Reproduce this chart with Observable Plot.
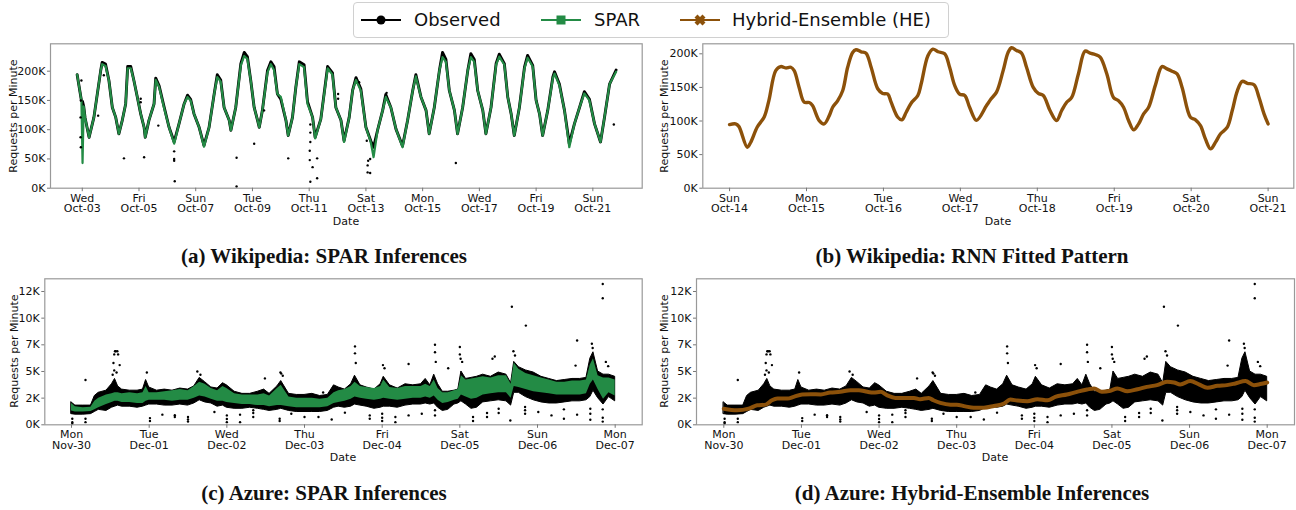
<!DOCTYPE html>
<html><head><meta charset="utf-8">
<script src="https://cdn.jsdelivr.net/npm/d3@7"></script>
<script src="https://cdn.jsdelivr.net/npm/@observablehq/plot@0.6"></script>
<style>
body{margin:0;background:#fff;width:1296px;height:510px;position:relative;overflow:hidden;font-family:"DejaVu Sans",sans-serif;}
.panel{position:absolute;}
.panel svg{overflow:visible;}
.cap{position:absolute;font-family:"Liberation Serif",serif;font-weight:bold;font-size:21px;line-height:24px;color:#111;text-align:center;width:648px;}
#legend{position:absolute;left:353px;top:2px;width:594px;height:34px;border:1px solid #d0d0d0;border-radius:4px;background:#fff;}
.lg-sw{position:absolute;top:7px;}
.lg-tx{position:absolute;top:5px;font-size:18px;line-height:24px;color:#111;white-space:nowrap;}
.axl{position:absolute;display:inline-block;font-size:11px;line-height:11px;color:#111;white-space:nowrap;transform:translate(-50%,-50%);}
.axl.rot{transform:translate(-50%,-50%) rotate(-90deg);}
</style></head><body>
<div id="legend"></div>
<div class="panel" id="pa" style="left:0;top:40px"></div>
<div class="panel" id="pb" style="left:648px;top:40px"></div>
<div class="panel" id="pc" style="left:0;top:275px"></div>
<div class="panel" id="pd" style="left:648px;top:275px"></div>
<div class="cap" id="ca" style="left:0;top:244px"></div>
<div class="cap" id="cb" style="left:648px;top:244px"></div>
<div class="cap" id="cc" style="left:0;top:481px"></div>
<div class="cap" id="cd" style="left:648px;top:481px"></div>
<div class="axl" style="left:346px;top:220.5px">Date</div>
<div class="axl" style="left:998px;top:220.5px">Date</div>
<div class="axl" style="left:343px;top:457px">Date</div>
<div class="axl" style="left:995px;top:457px">Date</div>
<div class="axl rot" style="left:13px;top:115.5px">Requests per Minute</div>
<div class="axl rot" style="left:663.5px;top:115.5px">Requests per Minute</div>
<div class="axl rot" style="left:13.5px;top:351.3px">Requests per Minute</div>
<div class="axl rot" style="left:664px;top:351.3px">Requests per Minute</div>
<script>
// ---------- legend / captions ----------
const legendLabels = ["Observed", "SPAR", "Hybrid-Ensemble (HE)"];
const legendColors = ["#000000", "#238b45", "#8c510a"];
const captions = ["(a) Wikipedia: SPAR Inferences", "(b) Wikipedia: RNN Fitted Pattern",
                  "(c) Azure: SPAR Inferences", "(d) Azure: Hybrid-Ensemble Inferences"];

// ---------- (a) Wikipedia: days since Sep-30-2018, values in K requests/min ----------
const wikiDays = [
 2.82,2.97,3.01,3.05,3.1,3.24,3.41,3.65,3.7,3.82,3.94,
 4.06,4.18,4.29,4.41,4.53,4.6,4.71,4.82,4.94,
 5.06,5.18,5.22,5.35,5.53,5.59,5.71,5.88,
 6.06,6.24,6.41,6.59,6.71,6.82,6.94,
 7.12,7.29,7.47,7.65,7.76,7.88,
 8.0,8.18,8.24,8.41,8.59,8.71,8.82,8.94,
 9.06,9.18,9.24,9.35,9.53,9.65,9.76,9.88,
 10.0,10.18,10.26,10.41,10.53,10.65,10.82,10.94,
 11.12,11.21,11.41,11.65,11.82,11.94,
 12.12,12.23,12.41,12.53,12.65,12.82,
 13.0,13.17,13.27,13.41,13.59,13.7,13.88,
 14.06,14.29,14.47,14.65,14.76,14.94,
 15.12,15.23,15.41,15.59,15.7,15.82,15.94,
 16.12,16.23,16.41,16.59,16.7,16.82,16.94,
 17.12,17.23,17.41,17.59,17.7,17.88,
 18.0,18.12,18.23,18.41,18.59,18.7,18.88,
 19.0,19.12,19.23,19.41,19.59,19.65,19.82,
 20.0,20.17,20.35,20.53,20.7,20.88,
 21.06,21.27,21.41,21.59,21.82];
const wikiObserved = [
 194,150,148,140,120,87,121,201,215,212,184,
 138,121,93,116,144,208,208,184,156,
 127,104,87,116,144,188,175,140,
 104,79,110,144,159,152,127,
 104,73,104,161,194,185,
 138,116,99,138,213,232,225,184,
 138,116,104,133,201,216,208,161,
 152,116,90,121,173,216,211,148,
 121,87,118,208,197,138,
 116,81,121,167,189,170,
 104,81,70,99,133,160,138,
 101,72,116,167,194,156,
 133,93,138,201,232,220,167,
 133,93,138,201,230,220,167,
 133,93,138,213,229,213,
 156,127,90,138,207,227,210,
 150,127,90,133,190,199,178,
 133,76,110,138,165,152,
 110,79,121,178,202];
const wikiSpar = [
 194,150,43,140,120,87,121,201,212,209,184,
 138,121,93,116,144,205,205,184,156,
 127,104,87,116,144,185,173,138,
 104,76,110,144,156,150,127,
 104,71,104,161,190,182,
 138,116,99,138,210,226,221,184,
 138,116,104,133,198,212,202,161,
 156,116,90,121,173,212,207,144,
 121,85,118,205,194,138,
 116,79,121,167,185,167,
 104,79,53,99,133,156,138,
 101,70,116,167,191,156,
 133,93,138,201,224,216,167,
 133,93,138,201,224,216,167,
 133,93,138,211,225,211,
 156,127,90,138,205,223,208,
 150,127,90,133,188,196,176,
 133,70,110,138,162,150,
 110,79,121,178,199];
const wikiOutDay = [2.94,2.94,2.95,2.95,2.97,4.47,5.18,5.68,3.56,3.76,6.24,6.24,6.24,6.26,8.44,8.44,9.06,10.26,11.04,11.04,
 11.04,11.02,11.02,11.12,11.28,11.28,11.04,9.41,5.06,5.06,13.06,13.06,13.15,13.15,13.08,13.03,16.17,21.74,12.76,12.02,12.02,13.73];
const wikiOutK = [121,87,70,150,184,51,53,107,124,193,63,50,47,12,52,3,76,51,109,95,
 79,64,48,36,51,17,11,133,153,147,39,27,26,50,47,81,43,109,181,161,153,163];
const wikiATicks = [3,5,7,9,11,13,15,17,19,21];
const wikiATickLabels = ["Wed\nOct-03","Fri\nOct-05","Sun\nOct-07","Tue\nOct-09","Thu\nOct-11",
 "Sat\nOct-13","Mon\nOct-15","Wed\nOct-17","Fri\nOct-19","Sun\nOct-21"];
const wikiYTicks = [0,50,100,150,200];
const wikiYTickLabels = ["0K","50K","100K","150K","200K"];

// ---------- (b) RNN fitted pattern: days since Oct-14 ----------
const rnnT = [0,0.078,0.12,0.23,0.274,0.36,0.45,0.51,0.6,0.665,
 0.73,0.796,0.84,0.904,0.97,1.035,1.078,1.165,1.23,1.296,
 1.34,1.404,1.47,1.535,1.6,1.643,1.71,1.774,1.84,1.926,
 1.99,2.057,2.1,2.187,2.24,2.296,2.36,2.447,2.49,2.578,
 2.643,2.71,2.796,2.86,2.926,2.99,3.057,3.12,3.21,3.34,
 3.4,3.47,3.556,3.62,3.665,3.73,3.795,3.86,3.947,4.013,
 4.078,4.165,4.25,4.317,4.382,4.447,4.534,4.621,4.686,4.752,
 4.817,4.904,4.99,5.056,5.121,5.186,5.252,5.317,5.382,5.447,
 5.534,5.621,5.686,5.751,5.817,5.882,5.99,6.056,6.121,6.186,
 6.252,6.317,6.382,6.47,6.534,6.6,6.665,6.73,6.817,6.882,
 6.947,7.0];
const rnnK = [94.7,95.7,92,61,68,91,106,130,175,181,
 179,180,175,150,128,127.5,123,100.7,95.7,108,
 120.5,130,145,180,202,206,203,201,180,148,
 141,140,128,105.6,101.7,113,126.5,138,155,197,
 207,203,200,180,153,140,138,120.5,101,123,
 133,143,175,202,209,205,201,180,150,141,
 138,115.6,100.7,115.6,128,135,170,204,201,199,
 195,170,135,130,120.5,100.7,86.8,95.7,110.6,120.5,
 153,181,177.6,174,170,150,105.6,101.7,93,73,
 58.5,68.5,81,90.8,115.6,145,159,156,154,135,
 110.6,95.7];
const rnnTicks = [0,1,2,3,4,5,6,7];
const rnnTickLabels = ["Sun\nOct-14","Mon\nOct-15","Tue\nOct-16","Wed\nOct-17","Thu\nOct-18","Fri\nOct-19","Sat\nOct-20","Sun\nOct-21"];
const rnnYTicks = [0,50,100,150,200];
const rnnYTickLabels = ["0K","50K","100K","150K","200K"];

// ---------- (c)/(d) Azure: days since Nov-30-2020, values in K ----------
const azT = [0,0.05,0.15,0.25,0.3,0.35,0.45,0.52,0.56,0.6,
 0.65,0.75,0.85,0.92,0.96,1.0,1.1,1.2,1.3,1.4,
 1.5,1.58,1.65,1.72,1.8,1.88,1.95,2.0,2.1,2.2,
 2.3,2.4,2.48,2.55,2.65,2.7,2.8,2.9,3.0,3.1,
 3.2,3.3,3.38,3.44,3.52,3.6,3.65,3.72,3.8,3.9,
 3.98,4.02,4.1,4.2,4.3,4.4,4.5,4.56,4.62,4.67,
 4.72,4.78,4.85,4.93,4.98,5.02,5.08,5.15,5.22,5.3,
 5.4,5.5,5.6,5.66,5.7,5.76,5.85,5.95,6.05,6.15,
 6.25,6.35,6.45,6.55,6.63,6.68,6.72,6.78,6.85,6.92,
 7.0];
const azObsLo = [1.0,0.95,0.95,1.0,1.2,1.4,1.3,1.6,1.7,1.8,
 1.7,1.7,1.6,1.7,1.8,1.9,1.9,1.8,1.8,1.9,
 1.8,2.0,2.3,2.1,2.0,1.7,1.8,1.6,1.5,1.5,
 1.6,1.5,1.4,1.3,1.4,1.5,1.3,1.2,1.2,1.2,
 1.2,1.3,1.6,1.7,1.6,1.7,1.9,1.8,1.7,1.5,
 1.6,1.7,1.7,1.6,1.8,1.9,1.9,2.0,1.9,2.0,
 1.6,1.3,1.4,1.9,2.0,2.2,1.9,1.5,1.6,2.1,
 2.2,2.3,2.2,1.8,3.0,3.0,2.6,2.3,2.1,2.0,
 2.0,2.1,2.2,2.2,2.3,2.6,3.2,2.5,1.9,2.6,
 2.2];
const azObsHi = [2.1,1.8,1.8,1.8,2.7,3.0,3.2,3.8,4.3,3.6,
 3.3,3.2,3.2,3.3,4.2,3.5,3.2,3.3,3.2,3.4,
 3.3,3.6,4.4,4.0,3.5,3.4,3.9,3.7,3.1,2.9,
 2.9,3.1,3.3,2.9,3.6,4.1,2.9,2.8,2.8,2.9,
 2.7,2.8,3.7,3.5,3.3,3.8,4.6,3.7,3.5,3.3,
 3.8,4.5,3.7,3.4,3.8,3.7,3.8,4.3,3.7,4.7,
 3.8,3.1,3.1,3.2,3.3,5.0,4.3,4.4,4.5,4.7,
 4.5,4.9,4.7,3.9,5.9,5.4,5.1,4.9,4.5,4.3,
 4.1,4.2,4.3,4.3,4.4,6.2,6.8,5.0,4.7,4.7,
 4.5];
const azSparLo = [1.3,1.2,1.2,1.25,1.4,1.6,1.9,2.1,2.2,2.2,
 2.1,2.1,2.0,2.0,2.2,2.3,2.3,2.3,2.2,2.3,
 2.3,2.5,2.7,2.6,2.4,2.2,2.2,2.1,2.0,1.9,
 1.9,1.8,1.8,1.7,1.8,1.8,1.7,1.6,1.6,1.6,
 1.6,1.7,2.0,2.1,2.2,2.4,2.6,2.5,2.4,2.3,
 2.4,2.5,2.4,2.3,2.4,2.5,2.5,2.6,2.5,2.7,
 2.3,2.0,2.1,2.3,2.4,2.8,2.6,2.4,2.5,2.8,
 2.9,3.0,3.0,2.5,3.6,3.5,3.3,3.1,3.0,2.9,
 2.8,2.8,2.8,2.8,2.9,3.8,4.2,3.3,2.4,3.0,
 2.7];
const azSparHi = [2.0,1.7,1.6,1.65,2.2,2.5,2.8,2.9,3.0,3.0,
 2.9,3.0,2.9,3.0,3.6,3.0,3.0,3.1,3.2,3.3,
 3.2,3.6,4.0,3.8,3.4,3.2,3.6,3.4,2.9,2.8,
 2.8,2.8,2.9,2.7,3.4,3.7,2.6,2.5,2.5,2.5,
 2.4,2.5,3.0,3.2,3.3,3.6,4.0,3.6,3.5,3.4,
 3.6,4.2,3.5,3.4,3.6,3.6,3.6,3.8,3.6,4.2,
 3.4,3.0,3.0,3.2,3.3,4.6,4.2,4.3,4.4,4.5,
 4.4,4.6,4.6,3.8,5.8,5.2,4.8,4.6,4.4,4.2,
 4.0,4.0,4.1,4.1,4.2,5.6,6.2,4.6,4.4,4.4,
 4.2];
const azOutT = [0.01,0.01,0.01,0.18,0.18,0.18,0.54,0.55,0.57,0.59,
 0.6,0.62,0.53,0.56,1.01,1.01,1.17,1.33,1.33,1.5,
 1.5,1.5,1.84,2.0,2.0,2.0,2.17,2.17,2.34,2.34,
 2.34,2.68,2.68,2.83,3.0,3.18,2.49,2.7,3.24,3.35,
 3.52,3.65,3.65,3.84,3.84,4.0,4.0,4.0,4.01,4.17,
 4.17,4.34,4.34,4.51,4.68,4.68,4.68,4.68,4.85,5.0,
 5.0,5.17,5.17,5.35,5.35,5.42,5.45,5.5,5.5,5.65,
 5.67,5.84,5.84,5.84,5.85,6.01,6.18,6.34,6.34,6.49,
 6.51,6.51,6.68,6.68,6.68,6.84,6.84,6.84,6.84,6.84,
 6.88,6.91,0.55,0.58,0.97,1.62,1.66,2.69,2.72,3.66,
 4.03,4.69,5.01,5.03,5.69,5.71,6.7,6.71];
const azOutK = [0.57,0.25,0.1,0.57,0.25,4.2,5.8,6.6,6.9,6.9,
 6.6,5.6,4.7,6.9,0.63,0.35,0.95,0.73,0.9,0.73,
 0.3,0.5,1.2,0.88,0.25,0.55,0.95,0.25,1.36,1.1,
 0.73,0.57,0.35,1.04,0.73,0.73,4.35,4.8,3.03,0.5,
 1.14,7.35,6.7,0.88,0.57,1.04,0.66,0.35,5.6,0.73,
 0.25,0.88,5.7,1.04,1.36,0.88,7.5,6.8,5.3,7.3,
 6.6,0.73,0.35,1.1,0.73,6.2,6.4,1.5,1.1,0.4,
 11.07,1.67,1.36,1.04,9.3,1.2,0.88,1.45,0.57,5.55,
 7.9,0.95,1.5,1.04,0.47,13.2,11.86,1.45,0.66,0.3,
 5.9,5.5,5.1,4.9,4.9,5.0,4.7,4.9,4.6,5.8,
 5.3,5.9,6.2,5.9,6.9,6.5,7.6,7.2];
const heT = [0,0.17,0.32,0.43,0.54,0.62,0.69,0.82,0.9,1.01,
 1.12,1.25,1.37,1.5,1.63,1.74,1.85,1.93,2.02,2.1,
 2.21,2.32,2.45,2.53,2.64,2.7,2.79,2.92,3.0,3.11,
 3.22,3.35,3.48,3.61,3.69,3.78,3.91,4.04,4.17,4.27,
 4.42,4.55,4.68,4.77,4.87,4.98,5.07,5.2,5.33,5.45,
 5.58,5.71,5.8,5.88,6.01,6.12,6.23,6.36,6.48,6.59,
 6.72,6.83,6.91,7.0];
const heK = [1.51,1.36,1.51,1.83,1.89,2.3,2.46,2.46,2.62,2.84,
 2.87,2.84,3.03,3.09,3.25,3.25,3.09,3.03,3.09,2.78,
 2.52,2.52,2.52,2.4,2.52,2.3,2.05,1.89,1.89,1.73,
 1.6,1.6,1.77,2.0,2.37,2.27,2.2,2.4,2.3,2.62,
 2.84,3.09,3.31,3.41,3.09,3.19,3.41,3.15,3.34,3.56,
 3.72,4.04,3.97,3.79,4.1,3.79,3.47,3.66,3.72,3.88,
 4.1,3.72,3.82,3.97];
const azTicks = [0,1,2,3,4,5,6,7];
const azTickLabels = ["Mon\nNov-30","Tue\nDec-01","Wed\nDec-02","Thu\nDec-03","Fri\nDec-04","Sat\nDec-05","Sun\nDec-06","Mon\nDec-07"];
const azYTicks = [0,2.5,5,7.5,10,12.5];
const azYTickLabels = ["0K","2K","5K","7K","10K","12K"];

// ---------- build rows ----------
const wikiRows = wikiDays.map((d,i)=>({day:d, obs:wikiObserved[i], spar:wikiSpar[i]}));
const wikiOut = wikiOutDay.map((d,i)=>({day:d, k:wikiOutK[i]}));
const rnnRows = rnnT.map((t,i)=>({t, k:rnnK[i]}));
const azRows = azT.map((t,i)=>({t, lo:azObsLo[i], hi:azObsHi[i], slo:azSparLo[i], shi:azSparHi[i]}));
const azOut = azOutT.map((t,i)=>({t, k:azOutK[i]}));
const heRows = heT.map((t,i)=>({t, k:heK[i]}));

const FONT = "DejaVu Sans";
function panel(o){
  const xl = new Map(o.xTicks.map((d,i)=>[d,o.xLabels[i]]));
  const yl = new Map(o.yTicks.map((d,i)=>[d,o.yLabels[i]]));
  return Plot.plot({
    width:648, height:195,
    marginLeft:o.ml, marginRight:o.mr, marginTop:o.mt, marginBottom:o.mb,
    style:{fontFamily:FONT, fontSize:"11px", color:"#111", background:"#fff"},
    x:{domain:o.xDomain}, y:{domain:o.yDomain},
    marks:[
      ...o.marks,
      Plot.frame({stroke:"#999", strokeWidth:1.2}),
      Plot.axisX(o.xTicks,{anchor:"bottom", tickSize:3.5, tickPadding:2, stroke:"#777", tickFormat:d=>xl.get(d), label:null, fontSize:11, lineHeight:1.0}),
      Plot.axisY(o.yTicks,{anchor:"left", tickSize:3, tickPadding:2, stroke:"#777", tickFormat:d=>yl.get(d), label:null, fontSize:11})
    ]
  });
}

document.getElementById("pa").append(panel({
  ml:50, mr:6.3, mt:3.3, mb:47.3,
  xDomain:[1.88,22.74], yDomain:[0,246.8],
  xTicks:wikiATicks, xLabels:wikiATickLabels, yTicks:wikiYTicks, yLabels:wikiYTickLabels,
  marks:[
    Plot.line(wikiRows,{x:"day", y:"obs", stroke:legendColors[0], strokeWidth:2.9}),
    Plot.line(wikiRows,{x:"day", y:"spar", stroke:legendColors[1], strokeWidth:2.2}),
    Plot.dot(wikiOut,{x:"day", y:"k", r:1.2, fill:legendColors[0], stroke:null})
  ]
}));
document.getElementById("pb").append(panel({
  ml:54.3, mr:2.7, mt:3.3, mb:47.3,
  xDomain:[-0.348,7.334], yDomain:[0,214.9],
  xTicks:rnnTicks, xLabels:rnnTickLabels, yTicks:rnnYTicks, yLabels:rnnYTickLabels,
  marks:[
    Plot.line(rnnRows,{x:"t", y:"k", stroke:legendColors[2], strokeWidth:3.4, curve:"catmull-rom"})
  ]
}));
document.getElementById("pc").append(panel({
  ml:44.3, mr:6.3, mt:3.3, mb:45.7,
  xDomain:[-0.344,7.348], yDomain:[0,13.69],
  xTicks:azTicks, xLabels:azTickLabels, yTicks:azYTicks, yLabels:azYTickLabels,
  marks:[
    Plot.areaY(azRows,{x:"t", y1:"lo", y2:"hi", fill:legendColors[0], stroke:legendColors[0], strokeWidth:1}),
    Plot.dot(azOut,{x:"t", y:"k", r:1.2, fill:legendColors[0], stroke:null}),
    Plot.areaY(azRows,{x:"t", y1:"slo", y2:"shi", fill:legendColors[1]})
  ]
}));
document.getElementById("pd").append(panel({
  ml:48, mr:2, mt:3.3, mb:45.7,
  xDomain:[-0.352,7.352], yDomain:[0,13.69],
  xTicks:azTicks, xLabels:azTickLabels, yTicks:azYTicks, yLabels:azYTickLabels,
  marks:[
    Plot.areaY(azRows,{x:"t", y1:"lo", y2:"hi", fill:legendColors[0], stroke:legendColors[0], strokeWidth:1}),
    Plot.dot(azOut,{x:"t", y:"k", r:1.2, fill:legendColors[0], stroke:null}),
    Plot.line(heRows,{x:"t", y:"k", stroke:legendColors[2], strokeWidth:4, curve:"monotone-x"})
  ]
}));

// ---------- legend ----------
const lg = document.getElementById("legend");
const swLeft = [7,187,326], txLeft = [60,240,378];
const markers = [
  c=>`<circle cx="20" cy="10" r="4.5" fill="${c}"/>`,
  c=>`<rect x="15.5" y="5.5" width="9" height="9" fill="${c}"/>`,
  c=>`<path d="M14.5,7.5 L17.5,4.5 L20,7 L22.5,4.5 L25.5,7.5 L23,10 L25.5,12.5 L22.5,15.5 L20,13 L17.5,15.5 L14.5,12.5 L17,10 Z" fill="${c}"/>`
];
legendLabels.forEach((lab,i)=>{
  const c = legendColors[i];
  const sw = document.createElement("div");
  sw.className="lg-sw"; sw.style.left=swLeft[i]+"px";
  sw.innerHTML = `<svg width="40" height="20"><line x1="0" y1="10" x2="40" y2="10" stroke="${c}" stroke-width="2.2"/>${markers[i](c)}</svg>`;
  lg.append(sw);
  const tx = document.createElement("div");
  tx.className="lg-tx"; tx.style.left=txLeft[i]+"px"; tx.textContent=lab;
  lg.append(tx);
});
["ca","cb","cc","cd"].forEach((id,i)=>{document.getElementById(id).textContent=captions[i];});
</script>
</body></html>
